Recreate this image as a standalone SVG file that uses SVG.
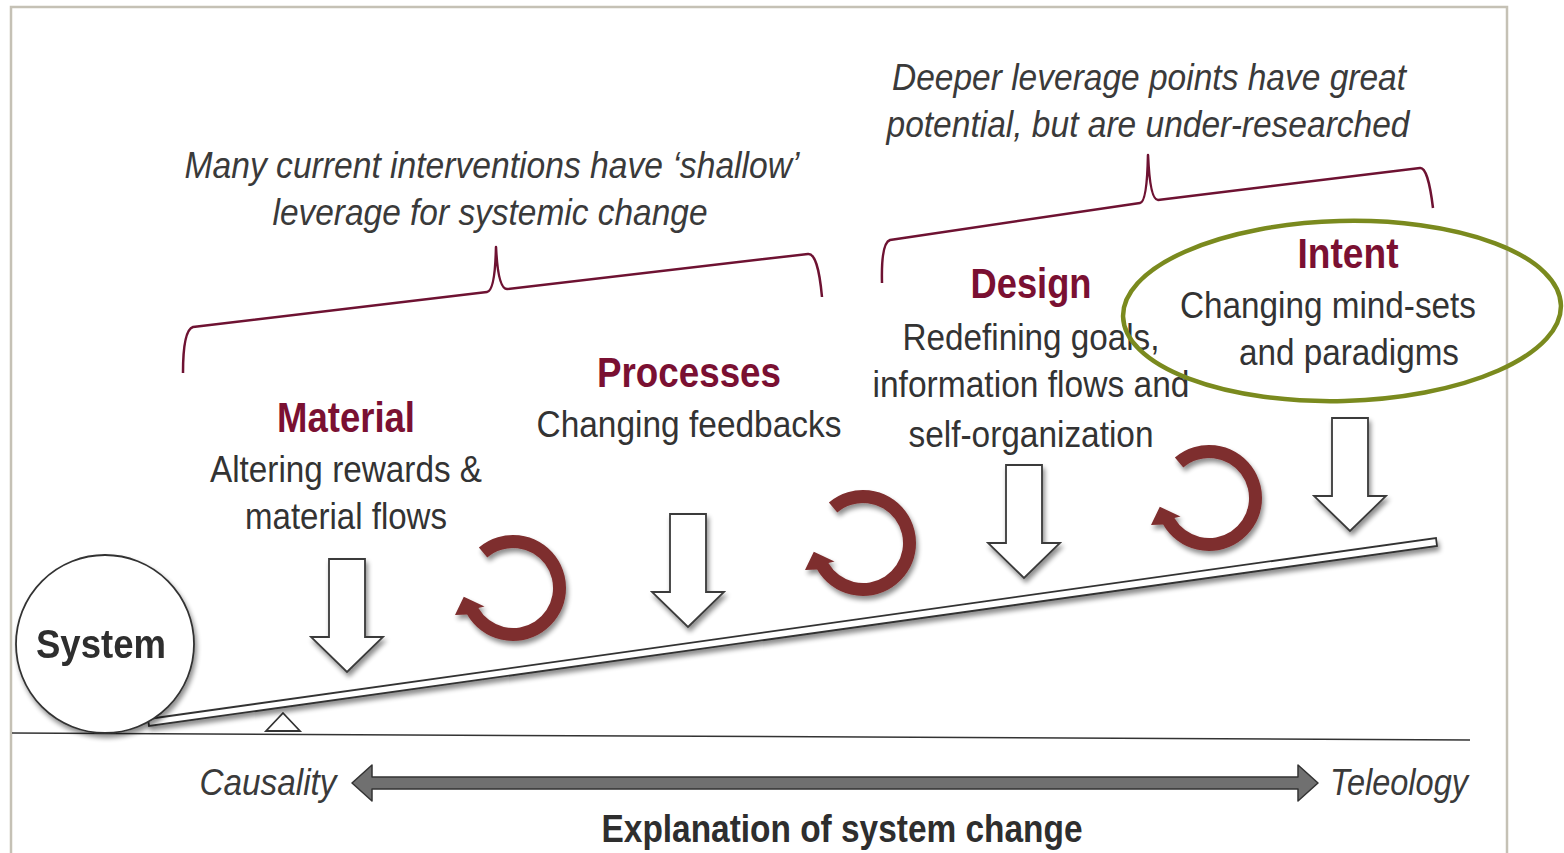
<svg xmlns="http://www.w3.org/2000/svg" width="1564" height="853" viewBox="0 0 1564 853">
<style>
.it{font-family:"Liberation Sans Narrow","Liberation Sans",Arial,sans-serif;font-style:italic;font-size:37px;fill:#3a3a3a;text-anchor:middle}
.hd{font-family:"Liberation Sans Narrow","Liberation Sans",Arial,sans-serif;font-weight:bold;font-size:42px;fill:#7a1032;text-anchor:middle}
.bd{font-family:"Liberation Sans Narrow","Liberation Sans",Arial,sans-serif;font-size:36px;fill:#333;text-anchor:middle}
.brace{fill:none;stroke:#6e1232;stroke-width:2.5;stroke-linejoin:round}
.dn{fill:#fff;stroke:#3a3a3a;stroke-width:1.8;stroke-linejoin:miter}
.loop{fill:#7e2d2d}
</style>
<defs>
<filter id="sh" x="-20%" y="-20%" width="140%" height="160%">
<feGaussianBlur in="SourceAlpha" stdDeviation="2.5"/>
<feOffset dx="2" dy="4" result="b"/>
<feComponentTransfer><feFuncA type="linear" slope="0.45"/></feComponentTransfer>
<feMerge><feMergeNode/><feMergeNode in="SourceGraphic"/></feMerge>
</filter>
<path id="darrow" class="dn" d="M0,0 H36 V78 H54 L18,113 L-18,78 H0 Z"/>
<path id="loop" class="loop" d="M-34.1,-40.6 A53,53 0 1 1 -45.9,26.5 L-58,27 L-49.2,8.7 L-28.5,18.5 L-34.6,20 A40,40 0 1 0 -25.7,-30.6 Z"/>
</defs>
<rect x="0" y="0" width="1564" height="853" fill="#fff"/>
<rect x="11" y="7" width="1496" height="870" fill="none" stroke="#c5c1b5" stroke-width="2.5"/>

<g id="ground">
<line x1="12" y1="733" x2="1470" y2="740" stroke="#333" stroke-width="1.5"/>
<polygon points="283,713 300,731 266,731" fill="#fff" stroke="#333" stroke-width="1.8"/>
</g>

<g id="lever" filter="url(#sh)">
<polygon points="148,719 1436,538 1437,546 149,726" fill="#fff" stroke="#333" stroke-width="1.8"/>
</g>

<g id="system" filter="url(#sh)">
<circle cx="105" cy="644" r="89" fill="#fff" stroke="#333" stroke-width="1.8"/>
<text x="101" y="658" font-family="'Liberation Sans Narrow','Liberation Sans',Arial,sans-serif" font-weight="bold" font-size="40" fill="#2e2e2e" text-anchor="middle" textLength="130" lengthAdjust="spacingAndGlyphs">System</text>
</g>

<g id="braces">
<path class="brace" d="M183,373 Q183,330 193,327 L487,292 Q495,291 496,247 Q498,289 507,289 L808,254 Q818,253 822,297"/>
<path class="brace" d="M882,283 Q881,243 890,240 L1140,203 Q1147,202 1148,155 Q1150,200 1158,200 L1420,168 Q1428,167 1433,208"/>
</g>

<g id="shallow-label">
<text class="it" x="492" y="178" textLength="615" lengthAdjust="spacingAndGlyphs">Many current interventions have ‘shallow’</text>
<text class="it" x="490" y="225" textLength="435" lengthAdjust="spacingAndGlyphs">leverage for systemic change</text>
</g>
<g id="deeper-label">
<text class="it" x="1149" y="90" textLength="514" lengthAdjust="spacingAndGlyphs">Deeper leverage points have great</text>
<text class="it" x="1148" y="137" textLength="523" lengthAdjust="spacingAndGlyphs">potential, but are under-researched</text>
</g>

<g id="material">
<text class="hd" x="346" y="432" textLength="138" lengthAdjust="spacingAndGlyphs">Material</text>
<text class="bd" x="346" y="482" textLength="272" lengthAdjust="spacingAndGlyphs">Altering rewards &amp;</text>
<text class="bd" x="346" y="529" textLength="202" lengthAdjust="spacingAndGlyphs">material flows</text>
<use href="#darrow" x="329" y="559" filter="url(#sh)"/>
</g>
<g id="loop1"><use href="#loop" x="513" y="588" filter="url(#sh)"/></g>

<g id="processes">
<text class="hd" x="689" y="387" textLength="184" lengthAdjust="spacingAndGlyphs">Processes</text>
<text class="bd" x="689" y="437" textLength="305" lengthAdjust="spacingAndGlyphs">Changing feedbacks</text>
<use href="#darrow" x="670" y="514" filter="url(#sh)"/>
</g>
<g id="loop2"><use href="#loop" x="863" y="543" filter="url(#sh)"/></g>

<g id="design">
<text class="hd" x="1031" y="298" textLength="121" lengthAdjust="spacingAndGlyphs">Design</text>
<text class="bd" x="1031" y="350" textLength="257" lengthAdjust="spacingAndGlyphs">Redefining goals,</text>
<text class="bd" x="1031" y="397" textLength="317" lengthAdjust="spacingAndGlyphs">information flows and</text>
<text class="bd" x="1031" y="447" textLength="245" lengthAdjust="spacingAndGlyphs">self-organization</text>
<use href="#darrow" x="1006" y="465" filter="url(#sh)"/>
</g>
<g id="loop3"><use href="#loop" x="1209" y="498" filter="url(#sh)"/></g>

<g id="intent">
<text class="hd" x="1348" y="268" textLength="101" lengthAdjust="spacingAndGlyphs">Intent</text>
<text class="bd" x="1328" y="318" textLength="296" lengthAdjust="spacingAndGlyphs">Changing mind-sets</text>
<text class="bd" x="1349" y="365" textLength="220" lengthAdjust="spacingAndGlyphs">and paradigms</text>
<use href="#darrow" x="1332" y="418" filter="url(#sh)"/>
<ellipse cx="1342" cy="311" rx="219" ry="90" fill="none" stroke="#7a8a1e" stroke-width="4.5" transform="rotate(-1.5 1342 311)"/>
</g>

<g id="axis">
<polygon points="352,783 372,765 372,777 1298,777 1298,765 1318,783 1298,801 1298,789 372,789 372,801" fill="#707070" stroke="#333" stroke-width="1.5" stroke-linejoin="round"/>
<text class="it" x="268" y="795" textLength="137" lengthAdjust="spacingAndGlyphs">Causality</text>
<text class="it" x="1399" y="795" textLength="138" lengthAdjust="spacingAndGlyphs">Teleology</text>
<text x="842" y="842" font-family="'Liberation Sans Narrow','Liberation Sans',Arial,sans-serif" font-weight="bold" font-size="38" fill="#2e2e2e" text-anchor="middle" textLength="481" lengthAdjust="spacingAndGlyphs">Explanation of system change</text>
</g>
</svg>
